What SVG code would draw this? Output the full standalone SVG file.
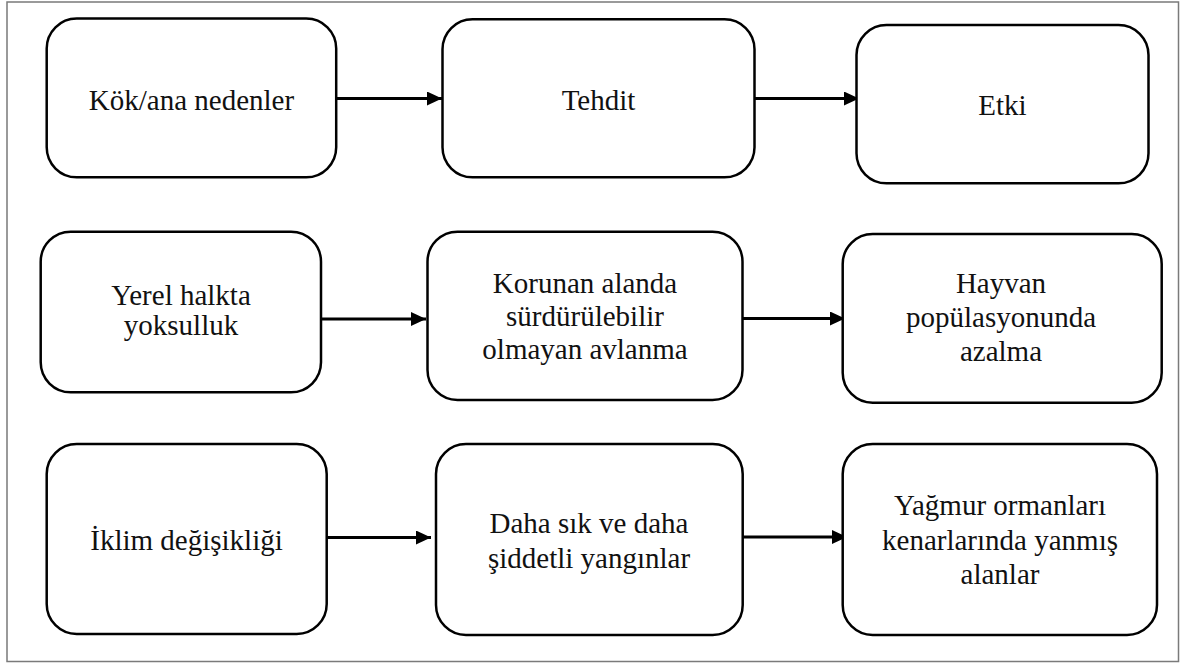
<svg xmlns="http://www.w3.org/2000/svg" width="1180" height="664" viewBox="0 0 1180 664">
  <defs>
    <marker id="arr" markerUnits="userSpaceOnUse" markerWidth="15" markerHeight="14" refX="15" refY="7" orient="auto">
      <path d="M0,0 L15,7 L0,14 z" fill="#000"/>
    </marker>
    <style>
      .box { fill: #fff; stroke: #000; stroke-width: 2.5; }
      .lbl { font-size: 29px; fill: #111; text-anchor: middle; }
      .con { stroke: #000; stroke-width: 3.2; fill: none; marker-end: url(#arr); }
    </style>
  </defs>
  <rect x="0" y="0" width="1180" height="664" fill="#fff"/>
  <rect x="7" y="2" width="1171.5" height="659.5" fill="none" stroke="#7a7a7a" stroke-width="1.5"/>

  <g id="connectors">
    <line class="con" x1="336" y1="98.5" x2="442" y2="98.5"/>
    <line class="con" x1="754" y1="98.5" x2="859" y2="98.5"/>
    <line class="con" x1="321" y1="319" x2="426" y2="319"/>
    <line class="con" x1="742" y1="318.5" x2="845" y2="318.5"/>
    <line class="con" x1="327" y1="537.5" x2="431" y2="537.5"/>
    <line class="con" x1="742" y1="537" x2="847" y2="537"/>
  </g>

  <g font-family="'Liberation Serif', 'Times New Roman', Times, serif">
  <g id="n1">
    <rect class="box" x="46.7" y="18.5" width="289.5" height="158.8" rx="30" ry="30"/>
    <text class="lbl" x="191.5" y="110">Kök/ana nedenler</text>
  </g>
  <g id="n2">
    <rect class="box" x="442.5" y="19.3" width="312" height="158" rx="30" ry="30"/>
    <text class="lbl" x="598.5" y="110">Tehdit</text>
  </g>
  <g id="n3">
    <rect class="box" x="856.5" y="25" width="292" height="158.3" rx="30" ry="30"/>
    <text class="lbl" x="1002.5" y="115">Etki</text>
  </g>

  <g id="n4">
    <rect class="box" x="40.7" y="231.7" width="280.3" height="160.6" rx="30" ry="30"/>
    <text class="lbl" x="181" y="305">Yerel halkta</text>
    <text class="lbl" x="181" y="334.5">yoksulluk</text>
  </g>
  <g id="n5">
    <rect class="box" x="427.5" y="231.7" width="315" height="168.3" rx="30" ry="30"/>
    <text class="lbl" x="585" y="292.5">Korunan alanda</text>
    <text class="lbl" x="585" y="326">sürdürülebilir</text>
    <text class="lbl" x="585" y="359.3">olmayan avlanma</text>
  </g>
  <g id="n6">
    <rect class="box" x="842.7" y="234" width="319" height="168.7" rx="30" ry="30"/>
    <text class="lbl" x="1001" y="293.3">Hayvan</text>
    <text class="lbl" x="1001" y="327.3">popülasyonunda</text>
    <text class="lbl" x="1001" y="360.7">azalma</text>
  </g>

  <g id="n7">
    <rect class="box" x="46.7" y="444" width="280" height="190" rx="30" ry="30"/>
    <text class="lbl" x="186.5" y="550">İklim değişikliği</text>
  </g>
  <g id="n8">
    <rect class="box" x="436" y="444" width="306.7" height="191" rx="30" ry="30"/>
    <text class="lbl" x="589" y="533">Daha sık ve daha</text>
    <text class="lbl" x="589" y="567.5">şiddetli yangınlar</text>
  </g>
  <g id="n9">
    <rect class="box" x="842.7" y="444" width="314.3" height="191" rx="30" ry="30"/>
    <text class="lbl" x="1000" y="515">Yağmur ormanları</text>
    <text class="lbl" x="1000" y="550">kenarlarında yanmış</text>
    <text class="lbl" x="1000" y="584">alanlar</text>
  </g>
  </g>
</svg>
